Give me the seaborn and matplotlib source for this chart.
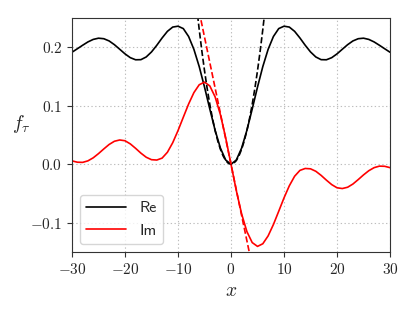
import pandas as pd
import matplotlib
matplotlib.use("Agg")
import matplotlib.pyplot as plt
from matplotlib.ticker import FuncFormatter
import seaborn as sns

# values, x = -30 ... 30 in steps of 1
x_vals = list(range(-30, 31))

re_vals = [0.1915, 0.1974, 0.2034, 0.2091, 0.2134, 0.2155, 0.2146, 0.2108, 0.2044, 0.1966,
           0.1887, 0.1822, 0.1786, 0.1788, 0.1834, 0.1920, 0.2034, 0.2159, 0.2272, 0.2345,
           0.2360, 0.2319, 0.2184, 0.1964, 0.1670, 0.1320, 0.0944, 0.0581, 0.0276, 0.0072,
           0.0,
           0.0072, 0.0276, 0.0581, 0.0944, 0.1320, 0.1670, 0.1964, 0.2184, 0.2319, 0.2360,
           0.2345, 0.2272, 0.2159, 0.2034, 0.1920, 0.1834, 0.1788, 0.1786, 0.1822, 0.1887,
           0.1966, 0.2044, 0.2108, 0.2146, 0.2155, 0.2134, 0.2091, 0.2034, 0.1974, 0.1915]

im_vals = [0.0058, 0.0035, 0.0032, 0.0058, 0.0110, 0.0182, 0.0262, 0.0338, 0.0393, 0.0415,
           0.0402, 0.0348, 0.0272, 0.0190, 0.0120, 0.0078, 0.0072, 0.0105, 0.0205, 0.0368,
           0.0575, 0.0804, 0.1030, 0.1225, 0.1359, 0.1404, 0.1339, 0.1152, 0.0848, 0.0450,
           0.0,
           -0.0450, -0.0848, -0.1152, -0.1339, -0.1404, -0.1359, -0.1225, -0.1030, -0.0804, -0.0575,
           -0.0368, -0.0205, -0.0105, -0.0072, -0.0078, -0.0120, -0.0190, -0.0272, -0.0348, -0.0402,
           -0.0415, -0.0393, -0.0338, -0.0262, -0.0182, -0.0110, -0.0058, -0.0032, -0.0035, -0.0058]

# small-x approximations (dashed)
quad_x = [-6.5, -6.0, -5.5, -5.0, -4.5, -4.0, -3.5, -3.0, -2.5, -2.0, -1.5, -1.0, -0.5, 0.0,
          0.5, 1.0, 1.5, 2.0, 2.5, 3.0, 3.5, 4.0, 4.5, 5.0, 5.5, 6.0, 6.5]
quad_y = [0.2704, 0.2304, 0.1936, 0.1600, 0.1296, 0.1024, 0.0784, 0.0576, 0.0400, 0.0256, 0.0144, 0.0064, 0.0016, 0.0,
          0.0016, 0.0064, 0.0144, 0.0256, 0.0400, 0.0576, 0.0784, 0.1024, 0.1296, 0.1600, 0.1936, 0.2304, 0.2704]
lin_x = [-6.0, 3.6]
lin_y = [0.261, -0.157]

x_ticks = [-30, -20, -10, 0, 10, 20, 30]
y_ticks = [-0.1, 0.0, 0.1, 0.2]

sns.set_style("ticks")
plt.rcParams["mathtext.fontset"] = "cm"
plt.rcParams["font.size"] = 11

fig, ax = plt.subplots(figsize=(4.15, 3.11), dpi=100)
fig.subplots_adjust(left=0.1735, right=0.9398, bottom=0.1897, top=0.9421)

df = pd.DataFrame({"x": x_vals, "re": re_vals, "im": im_vals})
sns.lineplot(data=df, x="x", y="re", color="black", lw=1.2, label="Re", ax=ax)
sns.lineplot(data=df, x="x", y="im", color="red", lw=1.2, label="Im", ax=ax)
sns.lineplot(x=quad_x, y=quad_y, color="black", lw=1.2, linestyle="--", ax=ax)
sns.lineplot(x=lin_x, y=lin_y, color="red", lw=1.2, linestyle="--", ax=ax)

ax.set_xlim(-30, 30)
ax.set_ylim(-0.15, 0.25)
ax.set_xticks(x_ticks)
ax.set_yticks(y_ticks)
ax.xaxis.set_major_formatter(FuncFormatter(lambda v, p: f"${v:.0f}$"))
ax.yaxis.set_major_formatter(FuncFormatter(lambda v, p: f"${v:.1f}$"))
ax.tick_params(labelsize=11, length=3.5, width=0.8, color="#333333")
ax.grid(True, linestyle=(0, (1.2, 2.2)), color="#bdbdbd", linewidth=0.8)
for s in ax.spines.values():
    s.set_color("#333333")
    s.set_linewidth(0.8)

ax.set_xlabel(r"$x$", fontsize=14)
ax.set_ylabel(r"$f_\tau$", fontsize=14, rotation=0)
ax.xaxis.set_label_coords(0.5, -0.125)
ax.yaxis.set_label_coords(-0.16, 0.50)

ax.legend(loc="lower left", prop={"family": "cmss10", "size": 11.5}, handlelength=2.5,
          edgecolor="#cccccc", framealpha=0.8)

fig.savefig("out.png", dpi=100)
